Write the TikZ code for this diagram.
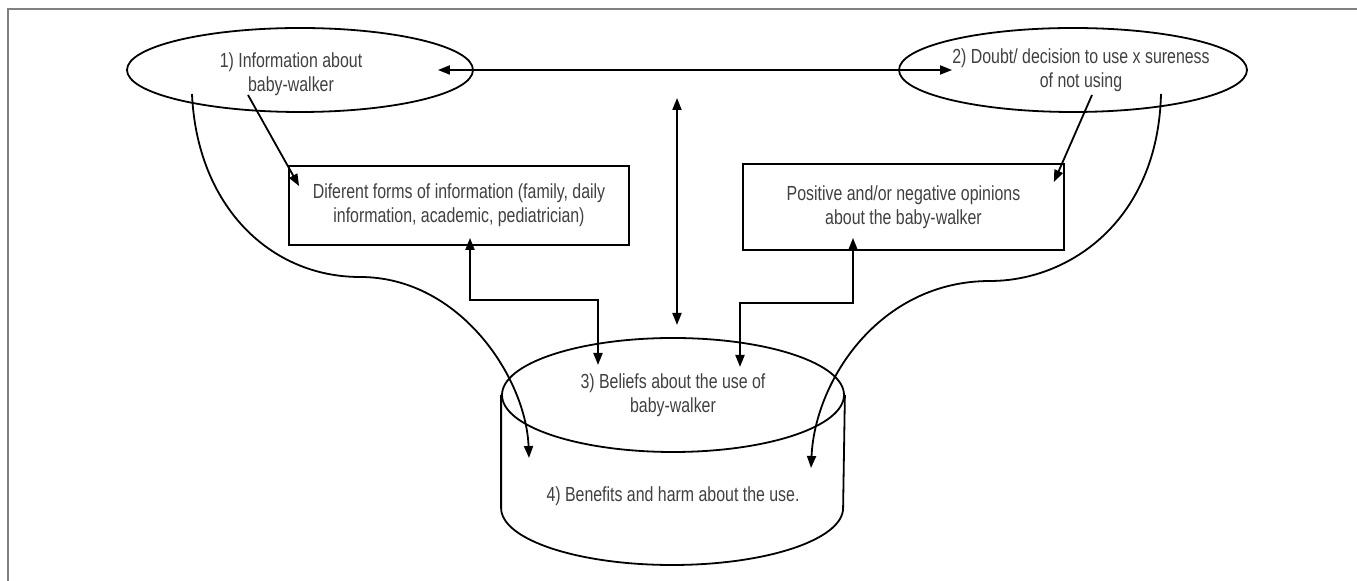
\documentclass[tikz,border=0pt]{standalone}
\usepackage{fontspec}
\setmainfont{Liberation Sans}[FakeStretch=0.78]
\usetikzlibrary{shapes.geometric,arrows.meta}

\begin{document}
\begin{tikzpicture}[x=0.5pt,y=-0.5pt,
    every node/.style ={font=\fontsize{10.2}{11.8}\selectfont, text=black!75},
    idea/.style ={ellipse, draw=black, line width=0.9pt, inner sep=0pt},
    opinion/.style ={rectangle, draw=black, line width=0.9pt, inner sep=0pt, align=center},
    link/.style ={line width=0.9pt, -{Triangle[length=6pt,width=4.5pt]}},
    twoway/.style ={line width=0.9pt, {Triangle[length=6pt,width=4.5pt]}-{Triangle[length=6pt,width=4.5pt]}}]
   \useasboundingbox (0,0) rectangle (1357,581);
   \draw[black!50, line width=1pt] (7.5,581) -- (7.5,9.5) -- (1357,9.5);
   \node[idea, minimum width=173pt, minimum height=42pt,
      label={[align=center, xshift=-4.5pt, yshift=-2pt]center:1) Information about\\baby-walker}] (info) at (300,70) {};
   \node[idea, minimum width=174pt, minimum height=42pt,
      label={[align=center, xshift=4pt]center:2) Doubt/ decision to use x sureness\\of not using}] (doubt) at (1073,70) {};
   \node[opinion, minimum width=170pt, minimum height=39.5pt] (forms) at (459,205.5)
      {Diferent forms of information (family, daily\\information, academic, pediatrician)};
   \node[opinion, minimum width=160.5pt, minimum height=43pt] (views) at (903.5,207)
      {Positive and/or negative opinions\\about the baby-walker};
   \node[idea, minimum width=171pt, minimum height=57pt, align=center] (beliefs) at (673,395)
      {3) Beliefs about the use of\\baby-walker};
   \node (harm) at (673,496) {4) Benefits and harm about the use.};
   \draw[line width=0.9pt] (beliefs.west) -- ++(0,113)
      arc[start angle=180, end angle=0, x radius=171, y radius=57] -- (beliefs.east);
   \coordinate (vtop) at (677,98);
   \coordinate (vbot) at (677,325);
   \draw[twoway] ([xshift=-18pt]info.east) -- ([xshift=27pt]doubt.west);
   \draw[twoway] (vtop) -- (vbot);
   \draw[link] ([shift={(-52,25)}]info.center) -- ([shift={(11,21)}]forms.north west);
   \draw[link] ([shift={(19,25)}]doubt.center) -- ([shift={(-11,19)}]views.north east);
   \draw[twoway] ([shift={(11,-8)}]forms.south) -- ++(0,62) -| ([shift={(-75,-30)}]beliefs.center);
   \draw[twoway] ([shift={(-50.5,-13)}]views.south) -- ++(0,65) -| ([shift={(67,-28)}]beliefs.center);
   \draw[link] ([shift={(-108,24)}]info.center) .. controls +(5,112) and +(-90,0) .. (360,277)
      .. controls +(100,0) and +(-3,-80) .. ([shift={(-144,63)}]beliefs.center);
   \draw[link] ([shift={(88,24)}]doubt.center) .. controls +(-3,126) and +(80,0) .. (990,281)
      .. controls +(-110,0) and +(4,-88) .. ([shift={(138,73)}]beliefs.center);
 \end{tikzpicture}
\end{document}
